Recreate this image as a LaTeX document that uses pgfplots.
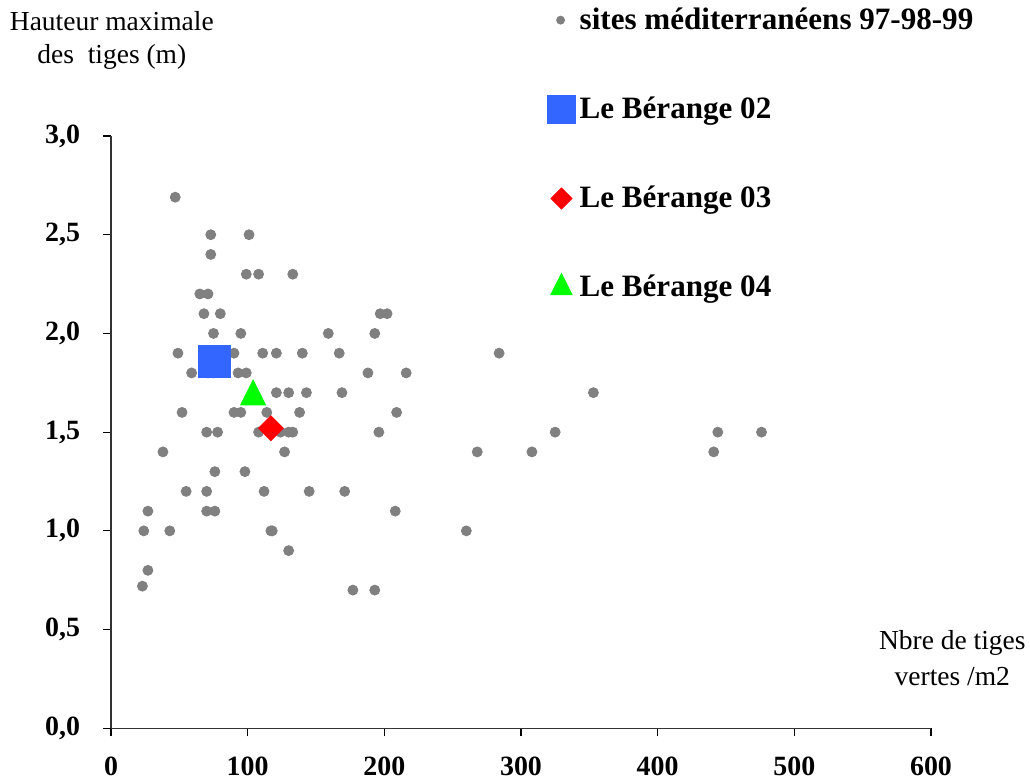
\documentclass[border=0pt]{standalone}
\usepackage{fontspec}
\setmainfont{Liberation Serif}
\usepackage{pgfplots}
\pgfplotsset{compat=1.18}

\definecolor{sitegray}{HTML}{808080}
\definecolor{bblue}{HTML}{3366FF}
\definecolor{bred}{HTML}{FF0000}
\definecolor{bgreen}{HTML}{00FF00}

\begin{document}
\begin{tikzpicture}
\path[use as bounding box] (-55.5bp,-27.35bp) rectangle (459.5bp,364.15bp);
\begin{axis}[
    scale only axis,
    width=410bp, height=296.15bp,
    xmin=0, xmax=600, ymin=0, ymax=3,
    axis x line*=bottom, axis y line*=left,
    axis line style={-, black!80, line width=0.6pt},
    xtick={0,100,...,600}, ytick={0,0.5,...,3},
    tick align=outside, major tick length=4bp,
    tick style={black, line width=0.6pt},
    xtick pos=lower, ytick pos=left,
    /pgf/number format/assume math mode=true,
    /pgf/number format/use comma,
    yticklabel style={/pgf/number format/fixed, /pgf/number format/fixed zerofill,
        /pgf/number format/precision=1, xshift=-8bp},
    xticklabel style={yshift=-7bp},
    tick label style={font=\fontsize{14}{16}\selectfont\bfseries},
    every axis y label/.style={at={(axis description cs:0.001,1.162)}, anchor=center, align=center,
        font=\fontsize{13.8}{16.5}\selectfont},
    every axis x label/.style={at={(axis description cs:1.026,0.119)}, anchor=center, align=center,
        font=\fontsize{13.8}{18}\selectfont},
    ylabel={Hauteur maximale\\des\ \ tiges (m)},
    xlabel={Nbre de tiges\\vertes /m2},
    legend style={draw=none, fill=none, at={(axis description cs:0.525,1.2305)}, anchor=north west,
        font=\fontsize{15.6}{18}\selectfont\bfseries, row sep=28.3bp,
        /tikz/every even column/.append style={column sep=0pt}},
    legend cell align=left,
]
\addplot[only marks, mark=*, mark size=2.5bp, color=sitegray, mark options={draw=sitegray, fill=sitegray},
    legend image post style={scale=0.8}] coordinates {
(47,2.69) (73,2.5) (101,2.5) (73,2.4) (99,2.3) (108,2.3) (133,2.3)
(65,2.2) (71,2.2) (68,2.1) (80,2.1) (75,2.0) (95,2.0) (159,2.0) (193,2.0)
(197,2.1) (202,2.1) (49,1.9) (90,1.9) (111,1.9) (121,1.9) (140,1.9) (167,1.9)
(284,1.9) (59,1.8) (71,1.8) (75,1.8) (93,1.8) (99,1.8) (188,1.8) (216,1.8)
(121,1.7) (130,1.7) (143,1.7) (169,1.7) (353,1.7) (52,1.6) (90,1.6) (95,1.6)
(114,1.6) (138,1.6) (209,1.6) (70,1.5) (78,1.5) (108,1.5) (124,1.5) (130,1.5)
(133,1.5) (196,1.5) (325,1.5) (444,1.5) (476,1.5) (38,1.4) (127,1.4) (268,1.4)
(308,1.4) (441,1.4) (76,1.3) (98,1.3) (55,1.2) (70,1.2) (112,1.2) (145,1.2)
(171,1.2) (27,1.1) (70,1.1) (76,1.1) (208,1.1) (24,1.0) (43,1.0) (117,1.0)
(118,1.0) (260,1.0) (130,0.9) (27,0.8) (23,0.72) (177,0.7) (193,0.7)
};
\addlegendentry{sites méditerranéens 97-98-99}
\addplot[only marks, mark=square*, mark size=8bp, color=bblue, mark options={draw=bblue, fill=bblue},
    legend image post style={scale=0.87}] coordinates {(76,1.86)};
\addlegendentry{Le Bérange 02}
\addplot[only marks, mark=square*, mark size=4.4bp, color=bred, mark options={draw=bred, fill=bred, rotate=45},
    legend image post style={scale=0.85}] coordinates {(117,1.52)};
\addlegendentry{Le Bérange 03}
\addplot[only marks, mark=triangle*, mark size=7.2bp, color=bgreen, mark options={draw=bgreen, fill=bgreen, yscale=1.15},
    legend image post style={scale=0.85}] coordinates {(104,1.68)};
\addlegendentry{Le Bérange 04}
\end{axis}
\end{tikzpicture}
\end{document}
